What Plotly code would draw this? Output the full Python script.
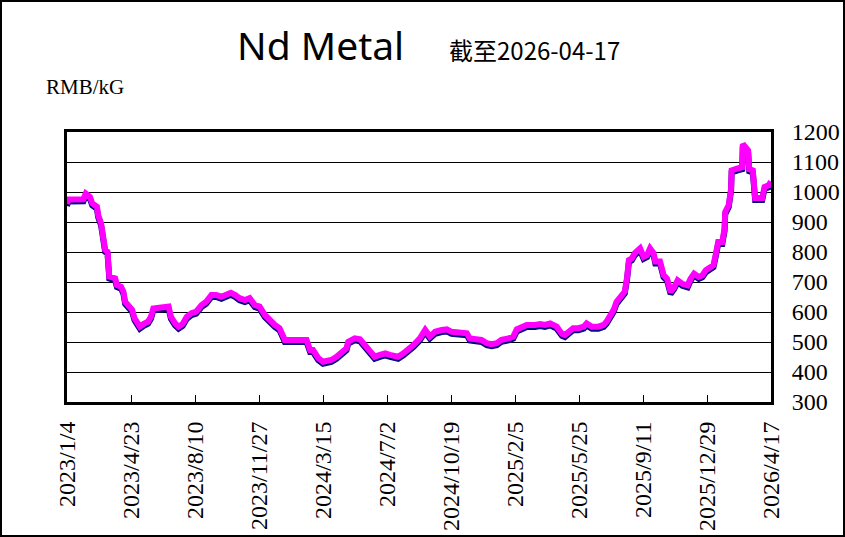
import plotly.graph_objects as go

dates = [
    "2023-01-04","2023-01-06","2023-02-01","2023-02-05","2023-02-12","2023-02-16","2023-02-24","2023-02-26","2023-03-03","2023-03-07",
    "2023-03-10","2023-03-14","2023-03-15","2023-03-17","2023-03-27","2023-03-30","2023-04-06","2023-04-10","2023-04-13","2023-04-19",
    "2023-04-25","2023-04-29","2023-05-03","2023-05-08","2023-05-14","2023-05-22","2023-05-27","2023-05-31","2023-06-26","2023-06-30",
    "2023-07-07","2023-07-13","2023-07-20","2023-07-24","2023-07-27","2023-08-04","2023-08-12","2023-08-21","2023-08-29","2023-09-07",
    "2023-09-15","2023-09-24","2023-10-02","2023-10-10","2023-10-17","2023-10-25","2023-11-03","2023-11-11","2023-11-20","2023-11-28",
    "2023-12-07","2023-12-15","2023-12-24","2024-01-01","2024-01-10","2024-02-16","2024-02-22","2024-02-27","2024-03-07","2024-03-15",
    "2024-03-29","2024-04-07","2024-04-16","2024-04-24","2024-04-27","2024-05-08","2024-05-17","2024-05-25","2024-06-03","2024-06-11",
    "2024-06-20","2024-06-29","2024-07-07","2024-07-21","2024-07-30","2024-08-07","2024-08-16","2024-08-27","2024-09-05","2024-09-13",
    "2024-09-22","2024-10-03","2024-10-12","2024-10-20","2024-10-29","2024-11-06","2024-11-15","2024-11-20","2024-12-02","2024-12-10",
    "2024-12-19","2024-12-27","2025-01-05","2025-01-13","2025-01-25","2025-02-02","2025-02-08","2025-02-16","2025-02-25","2025-03-11",
    "2025-03-20","2025-03-28","2025-04-06","2025-04-17","2025-04-26","2025-05-01","2025-05-10","2025-05-15","2025-05-24","2025-06-02",
    "2025-06-07","2025-06-16","2025-06-27","2025-07-06","2025-07-11","2025-07-17","2025-07-23","2025-07-28","2025-08-03","2025-08-11",
    "2025-08-15","2025-08-18","2025-08-23","2025-08-28","2025-09-06","2025-09-12","2025-09-18","2025-09-23","2025-09-29","2025-10-02",
    "2025-10-10","2025-10-16","2025-10-22","2025-10-25","2025-10-28","2025-11-03","2025-11-09","2025-11-17","2025-11-26","2025-12-01",
    "2025-12-07","2025-12-15","2025-12-21","2025-12-27","2026-01-04","2026-01-09","2026-01-12","2026-01-17","2026-01-24","2026-01-28",
    "2026-01-29","2026-02-04","2026-02-08","2026-02-09","2026-02-18","2026-02-27","2026-02-28","2026-03-04","2026-03-09","2026-03-11",
    "2026-03-17","2026-03-21","2026-04-02","2026-04-06","2026-04-13","2026-04-17",
]

prices = [
    960, 975, 976, 995, 984, 962, 951, 923, 896, 851,
    807, 801, 773, 718, 712, 690, 684, 668, 634, 618,
    607, 579, 562, 551, 560, 568, 584, 612, 618, 584,
    562, 551, 560, 575, 584, 596, 601, 623, 634, 657,
    657, 651, 657, 664, 657, 646, 640, 646, 623, 618,
    590, 573, 557, 546, 507, 507, 473, 473, 446, 434,
    440, 451, 468, 479, 501, 512, 509, 490, 468, 451,
    457, 462, 457, 451, 462, 473, 490, 512, 540, 518,
    534, 540, 542, 534, 531, 531, 529, 512, 512, 507,
    496, 493, 496, 507, 512, 518, 542, 551, 557, 557,
    560, 557, 562, 551, 527, 523, 534, 546, 546, 551,
    562, 551, 551, 557, 568, 584, 607, 634, 651, 668,
    718, 773, 779, 796, 812, 784, 790, 812, 796, 768,
    768, 723, 711, 678, 667, 683, 706, 694, 689, 711,
    728, 717, 722, 739, 750, 756, 783, 833, 833, 878,
    933, 956, 1011, 1072, 1078, 1083, 1160, 1150, 1139, 1076,
    1072, 980, 980, 1017, 1022, 1035,
]

x_tick_dates = ["2023-01-04", "2023-04-23", "2023-08-10", "2023-11-27", "2024-03-15", "2024-07-02",
                "2024-10-19", "2025-02-05", "2025-05-25", "2025-09-11", "2025-12-29", "2026-04-17"]
x_tick_labels = ["2023/1/4", "2023/4/23", "2023/8/10", "2023/11/27", "2024/3/15", "2024/7/2",
                 "2024/10/19", "2025/2/5", "2025/5/25", "2025/9/11", "2025/12/29", "2026/4/17"]
y_ticks = [300, 400, 500, 600, 700, 800, 900, 1000, 1100, 1200]

title_main = "Nd Metal"
title_date = "截至2026-04-17"
unit_label = "RMB/kG"

W, H = 845, 537
ML, MR, MT, MB = 67, 74, 132, 135
PW, PH = W - ML - MR, H - MT - MB

def px_x(p):
    return (p - ML) / PW

def px_y(p):
    return (H - MB - p) / PH

y_lo, y_hi = 300, 1200
shadow_shift = 2 * (y_hi - y_lo) / PH  # 2 px downward shadow

hidden_axis = dict(showgrid=False, zeroline=False, showline=False,
                   showticklabels=False, ticks="", automargin=False)

fig = go.Figure()
# invisible trace that anchors the visible axes
fig.add_trace(go.Scatter(x=dates, y=prices, mode="lines", yaxis="y",
                         line=dict(color="rgba(0,0,0,0)", width=1), hoverinfo="skip", showlegend=False))
# dark shadow
fig.add_trace(go.Scatter(x=dates, y=prices, mode="lines", yaxis="y2",
                         line=dict(color="#000080", width=6), hoverinfo="skip", showlegend=False))
# magenta line
fig.add_trace(go.Scatter(x=dates, y=prices, mode="lines", yaxis="y3",
                         line=dict(color="#FF00FF", width=6), showlegend=False))

fig.update_layout(
    width=W, height=H,
    margin=dict(l=ML, r=MR, t=MT, b=MB, autoexpand=False),
    paper_bgcolor="white", plot_bgcolor="white",
    showlegend=False,
    xaxis=dict(
        type="date", range=[x_tick_dates[0], x_tick_dates[-1]],
        tickvals=x_tick_dates, ticktext=x_tick_labels, tickangle=-90,
        ticks="inside", ticklen=7, tickwidth=1, tickcolor="black",
        showgrid=False, zeroline=False, automargin=False,
        showline=True, linecolor="black", linewidth=3, mirror=True,
        tickfont=dict(family="Liberation Serif", size=24, color="black"),
        ticklabelstandoff=7,
    ),
    yaxis=dict(
        range=[y_lo, y_hi], side="right", tickvals=y_ticks,
        ticktext=[str(v) for v in y_ticks], automargin=False,
        showgrid=True, gridcolor="black", gridwidth=1, zeroline=False,
        showline=True, linecolor="black", linewidth=3, mirror=True,
        ticks="", tickfont=dict(family="Liberation Serif", size=24, color="black"),
        ticklabelstandoff=13,
    ),
    yaxis2=dict(range=[y_lo + shadow_shift, y_hi + shadow_shift], overlaying="y", side="right",
                **hidden_axis),
    yaxis3=dict(range=[y_lo, y_hi], overlaying="y", side="right", **hidden_axis),
    annotations=[
        dict(text=title_main, xref="paper", yref="paper", x=px_x(320), y=px_y(44),
             xanchor="center", yanchor="middle", showarrow=False,
             font=dict(family="Noto Sans", size=39, color="black")),
        dict(text=title_date, xref="paper", yref="paper", x=px_x(534), y=px_y(50),
             xanchor="center", yanchor="middle", showarrow=False,
             font=dict(family="Noto Sans CJK SC", size=24, color="black")),
        dict(text=unit_label, xref="paper", yref="paper", x=px_x(44), y=px_y(87),
             xanchor="left", yanchor="middle", showarrow=False,
             font=dict(family="Liberation Serif", size=21, color="black")),
    ],
    shapes=[
        dict(type="rect", xref="paper", yref="paper",
             x0=px_x(1), x1=px_x(844), y0=px_y(536), y1=px_y(1),
             line=dict(color="black", width=2), fillcolor="rgba(0,0,0,0)", layer="above"),
    ],
)

fig.write_html("out.html")
